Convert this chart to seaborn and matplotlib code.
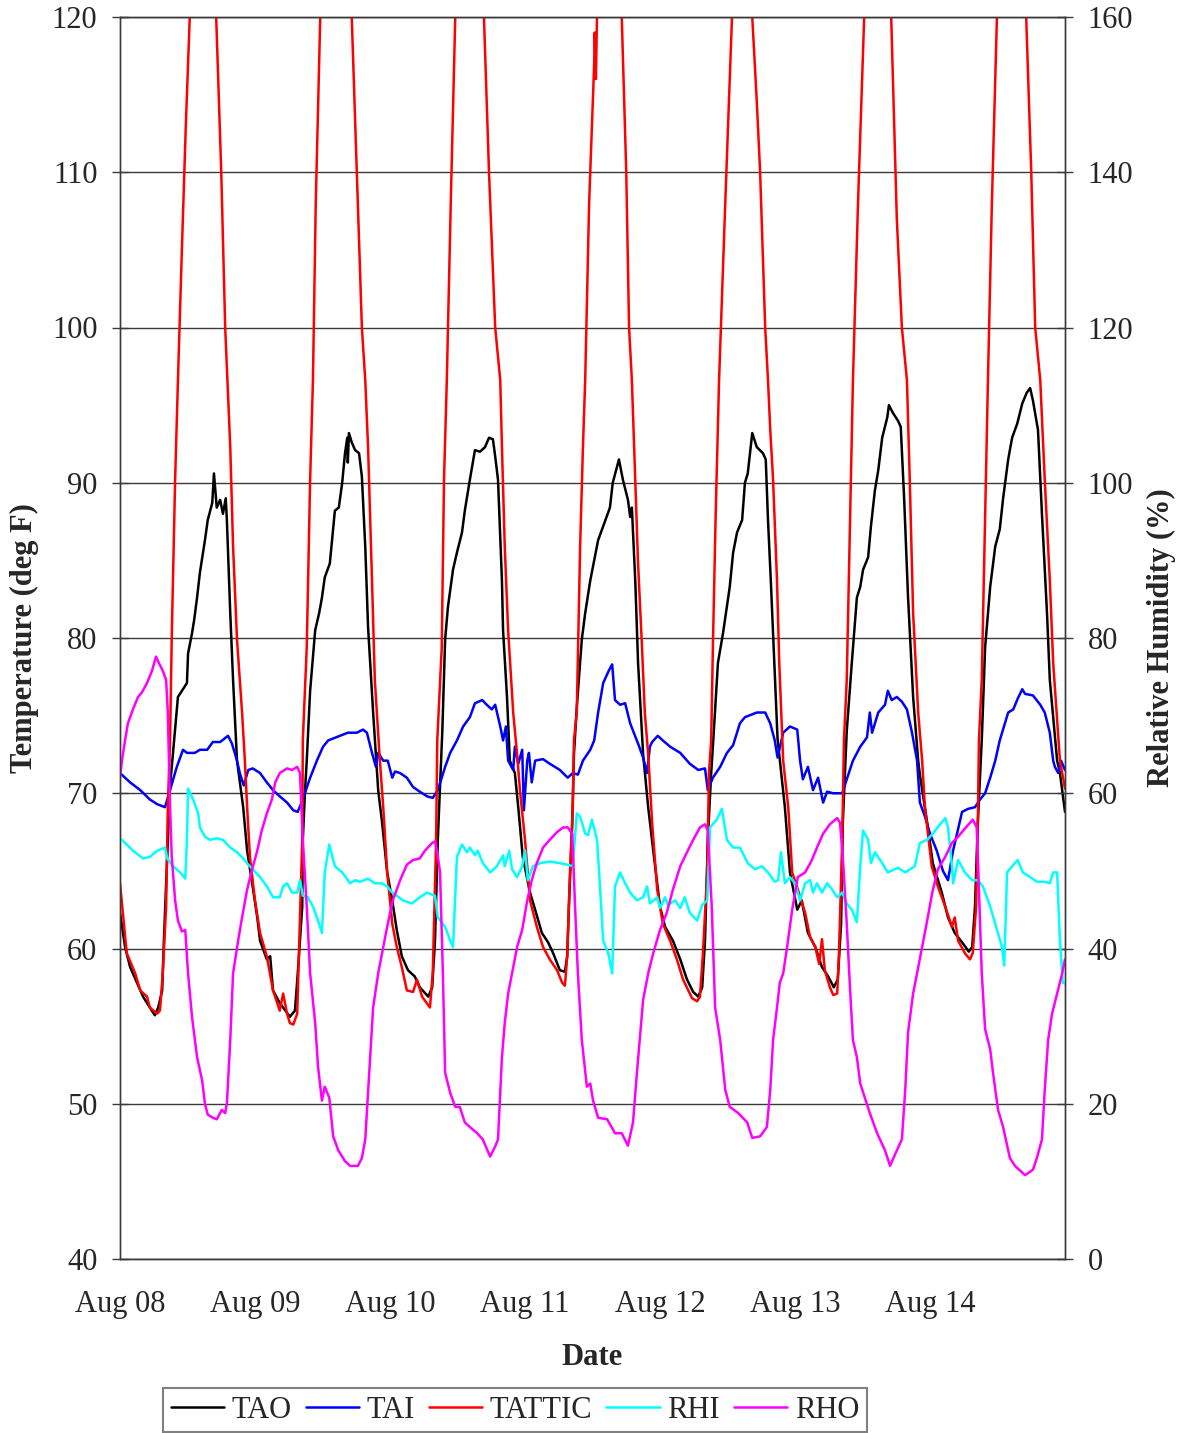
import matplotlib
matplotlib.use("Agg")
import matplotlib.pyplot as plt
import matplotlib.dates as mdates
from matplotlib.ticker import MultipleLocator, FixedLocator
import pandas as pd
import seaborn as sns

sns.set_style("white")
plt.rcParams["font.family"] = ["Liberation Serif", "DejaVu Serif"]

START = pd.Timestamp("2006-08-08 00:00")

# (hours since Aug 08 00:00, value)
TAO = [(0.0,62.3),(0.9,60.1),(1.8,58.8),(3.0,57.8),(4.1,56.9),(5.3,56.2),(6.2,55.7),(6.8,56.2),(7.5,57.3),(7.8,60.5),(8.4,66.0),(8.9,70.5),(9.4,72.5),(10.3,76.2),(11.9,77.1),(12.1,79.0),(12.8,80.3),(13.2,81.2),(13.7,82.6),(14.2,84.2),(15.1,86.3),(15.6,87.6),(16.4,88.7),(16.7,90.6),(17.2,88.4),(17.8,88.9),(18.3,88.0),(18.8,89.0),(19.0,87.6),(19.6,81.6),(20.1,77.3),(20.8,72.1),(21.9,69.1),(22.6,66.3),(23.5,64.2),(24.4,62.0),(24.9,60.5),(26.1,59.3),(26.7,59.5),(27.2,57.3),(28.4,56.5),(30.2,55.6),(31.1,56.0),(31.6,58.4),(32.4,62.7),(32.5,67.0),(32.9,70.2),(33.2,72.1),(33.8,76.6),(34.7,80.5),(35.4,81.6),(35.9,82.6),(36.4,83.9),(37.3,84.8),(37.7,86.3),(38.2,88.2),(38.9,88.4),(39.5,90.0),(40.0,91.9),(40.4,92.9),(40.5,91.3),(40.7,93.2),(41.2,92.6),(41.8,92.1),(42.5,91.9),(43.0,90.4),(43.6,85.9),(44.1,80.7),(45.0,75.2),(45.9,70.2),(46.6,68.1),(47.5,64.9),(48.4,63.1),(49.2,61.2),(50.1,59.5),(51.2,58.6),(52.4,58.2),(53.3,57.5),(54.8,56.9),(55.5,57.5),(56.0,60.5),(56.5,67.0),(57.3,74.0),(57.8,79.9),(58.3,82.0),(59.2,84.4),(59.9,85.5),(60.8,86.8),(61.3,88.2),(62.2,90.2),(63.1,92.1),(64.0,92.0),(64.9,92.3),(65.6,92.9),(66.3,92.8),(66.7,91.7),(67.2,90.2),(67.9,83.7),(68.1,80.5),(68.8,76.2),(69.3,72.1),(70.2,71.3),(70.8,69.1),(71.6,65.9),(72.9,63.6),(73.8,62.5),(75.0,61.0),(76.1,60.4),(77.0,59.7),(78.2,58.6),(79.1,58.5),(79.5,59.5),(79.8,62.7),(80.4,68.1),(80.7,72.5),(81.2,75.5),(82.1,79.9),(82.7,81.6),(83.6,83.7),(84.4,85.2),(85.0,86.3),(85.9,87.2),(87.1,88.4),(87.6,90.0),(88.7,91.5),(89.4,90.2),(90.3,88.9),(90.7,87.8),(91.0,88.4),(91.6,83.7),(92.1,78.4),(93.0,72.5),(93.9,69.1),(94.8,66.3),(96.0,62.7),(96.9,61.4),(98.3,60.5),(99.6,59.3),(100.8,58.0),(101.9,57.2),(102.8,56.9),(103.5,57.5),(104.0,60.5),(104.5,67.0),(105.1,71.3),(105.4,73.0),(106.3,78.4),(107.2,80.3),(108.4,83.3),(109.0,85.5),(109.7,86.8),(110.6,87.6),(111.1,90.0),(111.6,90.6),(112.4,93.2),(113.2,92.3),(114.3,91.9),(114.8,91.5),(115.2,87.6),(115.7,83.7),(116.2,79.4),(116.9,73.5),(118.2,69.1),(119.1,64.9),(120.4,62.5),(121.2,63.1),(122.3,61.0),(123.6,60.1),(124.8,58.8),(125.9,58.2),(126.9,57.5),(127.6,58.0),(128.2,61.6),(128.5,68.1),(129.2,74.0),(130.1,78.4),(131.0,82.6),(131.6,83.3),(132.1,84.4),(133.0,85.2),(133.5,87.2),(134.2,89.5),(134.8,90.8),(135.5,92.9),(136.4,94.2),(136.7,95.0),(137.4,94.5),(138.3,94.0),(138.8,93.6),(139.4,89.0),(140.1,82.6),(141.0,76.2),(141.9,72.1),(142.2,71.2),(143.5,68.1),(144.5,65.5),(146.1,63.6),(147.2,62.0),(148.4,61.0),(149.7,60.4),(150.9,59.8),(151.5,60.1),(152.0,62.7),(152.5,68.1),(153.2,73.4),(153.8,79.4),(154.7,83.3),(155.6,85.9),(156.4,87.0),(157.0,89.0),(157.9,91.5),(158.6,92.9),(159.5,93.8),(160.4,95.1),(161.2,95.8),(161.8,96.1),(162.3,95.3),(163.2,93.4),(163.9,88.0),(164.8,81.6),(165.3,77.3),(166.6,72.1),(167.1,71.3),(168.0,68.8)]

TATTIC = [(0.0,64.2),(1.2,59.7),(2.7,58.4),(3.6,57.3),(4.8,56.9),(5.3,56.2),(6.6,55.8),(7.1,56.0),(7.6,58.4),(8.2,62.7),(8.5,69.1),(8.9,73.4),(9.2,80.1),(9.8,90.2),(10.3,96.6),(11.0,105.0),(11.7,113.0),(12.4,120.0),(14.8,131.0),(17.1,120.0),(18.0,110.0),(18.7,100.0),(19.6,92.3),(20.1,85.9),(20.8,79.9),(21.7,75.2),(22.2,72.1),(22.6,69.1),(23.1,65.9),(24.0,63.1),(24.9,61.0),(26.1,59.5),(27.2,57.3),(28.4,56.0),(29.0,57.1),(29.7,55.8),(30.2,55.2),(30.8,55.1),(31.5,55.8),(31.8,59.5),(32.4,67.0),(32.5,73.4),(33.2,79.4),(33.8,90.2),(34.3,96.6),(34.8,108.0),(35.6,120.0),(38.4,133.0),(41.2,120.0),(42.1,110.0),(43.0,100.0),(43.6,96.6),(44.1,92.3),(44.8,83.7),(45.3,77.3),(46.2,72.1),(46.8,69.1),(47.5,64.9),(48.4,61.6),(49.2,60.1),(50.1,58.8),(51.0,57.3),(52.1,57.2),(52.8,58.0),(53.7,56.9),(55.1,56.2),(55.6,58.4),(56.2,67.0),(56.4,73.4),(57.2,79.4),(57.6,90.2),(58.1,96.6),(58.8,108.0),(59.6,120.0),(62.2,133.0),(64.7,120.0),(65.6,110.0),(66.7,100.0),(67.6,96.6),(67.9,92.3),(68.4,85.9),(69.0,80.5),(69.9,75.2),(70.6,72.5),(71.1,70.2),(72.0,67.0),(72.9,63.1),(74.1,61.4),(75.2,60.1),(76.4,59.3),(77.7,58.6),(78.6,57.8),(79.1,57.6),(79.5,59.5),(80.0,64.9),(80.5,69.1),(80.7,73.4),(81.2,75.2),(81.8,85.9),(82.3,92.3),(82.7,96.6),(83.4,108.0),(84.3,117.0),(84.4,119.0),(84.6,116.0),(84.8,120.0),(87.1,131.0),(89.2,120.0),(90.0,110.0),(90.5,100.0),(91.0,96.6),(91.6,90.2),(92.1,84.8),(92.8,79.4),(93.3,75.2),(93.9,72.5),(94.6,68.1),(95.5,63.8),(96.5,61.6),(97.8,60.5),(99.0,59.3),(100.1,58.0),(101.7,56.8),(102.6,56.6),(103.1,56.9),(103.6,59.5),(104.4,64.9),(104.7,71.3),(105.1,73.4),(105.4,79.4),(105.9,88.0),(106.5,96.6),(107.6,108.0),(108.8,120.0),(110.6,130.0),(112.4,120.0),(113.2,114.6),(113.8,110.0),(114.7,100.0),(115.2,96.6),(115.6,93.4),(116.1,90.2),(116.8,83.7),(117.2,78.4),(117.9,72.1),(118.8,69.1),(119.5,64.9),(120.5,63.8),(121.8,62.3),(122.7,60.7),(123.6,60.1),(124.3,59.0),(124.8,60.6),(125.3,58.6),(126.2,57.5),(126.8,57.0),(127.5,57.1),(127.8,59.5),(128.4,67.0),(128.7,73.4),(129.2,77.3),(129.8,88.0),(130.3,96.6),(131.2,108.0),(132.3,120.0),(134.6,133.0),(137.1,120.0),(138.1,107.0),(139.0,100.0),(139.9,96.6),(140.4,90.2),(141.0,81.6),(141.9,75.2),(142.6,72.1),(143.1,69.1),(144.3,65.3),(145.4,64.0),(146.7,62.7),(147.9,61.4),(148.4,62.0),(149.0,60.5),(150.2,59.7),(151.1,59.3),(151.6,59.7),(152.2,62.7),(152.5,68.1),(152.7,73.4),(153.2,77.3),(153.8,88.0),(154.3,96.6),(155.0,108.0),(155.9,120.0),(158.6,132.0),(161.1,120.0),(162.0,110.0),(162.7,100.0),(163.6,96.6),(164.4,90.2),(165.3,83.7),(165.9,78.4),(167.1,72.1),(168.0,70.3)]

TAI = [(0.0,71.3),(1.8,70.7),(3.6,70.2),(5.3,69.6),(6.6,69.3),(8.0,69.1),(8.9,70.2),(10.1,71.7),(11.2,72.8),(11.9,72.6),(13.3,72.6),(14.2,72.8),(15.5,72.8),(16.5,73.3),(17.8,73.3),(19.2,73.7),(19.9,73.2),(20.8,72.1),(21.3,71.3),(22.0,70.5),(22.8,71.5),(23.6,71.6),(24.9,71.3),(26.1,70.7),(27.2,70.2),(28.4,69.8),(29.7,69.4),(30.8,68.9),(31.6,68.8),(32.5,69.6),(33.8,71.0),(35.0,72.1),(36.1,73.0),(37.0,73.4),(39.1,73.7),(40.5,73.9),(42.1,73.9),(43.2,74.1),(43.9,73.9),(44.8,72.6),(45.5,71.7),(45.9,72.6),(46.8,72.1),(47.6,72.1),(48.4,71.0),(48.9,71.4),(49.8,71.3),(51.0,71.0),(52.1,70.4),(53.3,70.1),(54.6,69.8),(55.6,69.7),(56.5,70.2),(57.8,71.7),(58.7,72.6),(59.9,73.4),(61.0,74.3),(62.2,74.9),(63.1,75.8),(64.4,76.0),(65.2,75.7),(66.1,75.4),(66.7,75.7),(67.6,74.3),(68.1,73.4),(68.6,74.3),(69.0,72.1),(69.9,71.5),(70.2,73.0),(70.8,71.9),(71.5,72.8),(71.8,68.9),(72.4,72.1),(72.7,72.6),(73.2,70.7),(73.8,72.1),(75.2,72.2),(76.4,71.9),(78.2,71.5),(79.6,71.0),(80.5,71.3),(81.4,71.2),(82.3,72.1),(83.6,72.8),(84.3,73.4),(85.0,75.2),(85.9,77.1),(86.9,77.9),(87.5,78.3),(88.0,76.0),(88.9,75.7),(89.8,75.8),(90.7,74.5),(92.1,73.2),(93.0,72.3),(93.7,71.3),(94.2,73.0),(94.6,73.3),(95.6,73.7),(96.5,73.4),(97.8,73.0),(99.6,72.6),(101.3,71.9),(102.8,71.5),(104.0,71.6),(104.5,70.2),(105.4,71.0),(106.7,71.7),(107.9,72.6),(109.0,73.1),(110.2,74.5),(111.1,74.9),(113.2,75.2),(114.7,75.2),(115.6,74.5),(116.4,73.4),(116.9,72.3),(117.9,73.9),(119.1,74.3),(120.4,74.1),(120.9,72.1),(121.4,70.9),(122.3,71.7),(123.2,70.2),(124.1,71.0),(125.0,69.4),(125.7,70.1),(126.8,70.0),(128.4,70.0),(129.2,70.9),(130.3,72.1),(131.6,73.0),(132.8,73.6),(133.3,75.2),(133.7,73.9),(134.8,75.2),(136.0,75.7),(136.5,76.6),(137.2,76.0),(138.1,76.2),(139.0,75.9),(139.9,75.4),(140.8,73.9),(141.7,72.1),(142.2,69.4),(143.1,68.5),(144.0,67.4),(145.2,66.3),(146.3,65.0),(147.2,64.4),(148.1,66.3),(148.8,67.4),(149.7,68.8),(150.8,69.0),(152.0,69.1),(152.9,69.6),(153.8,70.0),(154.7,71.0),(155.6,72.1),(156.4,73.4),(157.9,75.2),(158.8,75.4),(159.6,76.1),(160.4,76.7),(160.9,76.4),(162.3,76.3),(163.6,75.7),(164.4,75.2),(165.3,73.9),(165.9,72.1),(166.2,71.7),(166.8,71.3),(167.3,72.1),(168.0,71.5)]

RHI = [(0.0,54.2),(0.9,53.6),(2.3,52.6),(4.1,51.6),(5.3,51.8),(6.6,52.6),(8.0,53.0),(8.4,51.6),(9.4,50.6),(10.7,49.8),(11.6,49.0),(11.9,54.0),(12.1,60.6),(13.0,59.2),(13.9,57.4),(14.2,55.6),(15.1,54.4),(16.0,54.0),(17.2,54.2),(18.3,54.0),(19.6,53.0),(20.8,52.4),(21.9,51.6),(22.8,50.8),(23.6,50.2),(24.9,49.2),(26.1,48.0),(27.2,46.6),(28.4,46.6),(29.0,48.0),(29.7,48.4),(30.6,47.2),(31.5,47.2),(32.0,48.8),(32.5,46.8),(33.4,46.6),(34.3,45.4),(35.2,43.6),(35.9,42.0),(36.4,49.8),(37.2,53.4),(38.2,50.6),(39.5,49.8),(40.9,48.4),(41.8,48.8),(42.7,48.6),(44.1,49.0),(45.3,48.4),(46.6,48.4),(47.5,48.0),(48.4,47.2),(49.2,46.8),(50.3,46.2),(51.9,45.8),(53.3,46.6),(54.6,47.2),(56.0,46.8),(56.5,44.0),(57.8,42.8),(58.7,41.0),(59.2,40.2),(59.9,51.8),(60.8,53.4),(61.7,52.4),(62.2,53.0),(63.1,52.0),(63.6,52.6),(64.5,51.0),(65.8,49.8),(67.0,50.6),(68.1,52.0),(68.4,50.6),(69.2,52.6),(69.7,50.2),(70.6,49.2),(71.5,50.6),(72.0,52.6),(72.5,48.8),(73.4,50.6),(74.7,51.0),(76.4,51.2),(78.2,51.0),(79.5,50.8),(80.5,50.6),(81.2,57.4),(81.8,57.0),(82.7,54.8),(83.2,54.6),(83.9,56.6),(84.8,54.0),(85.3,48.4),(85.9,41.0),(86.8,39.4),(87.5,36.8),(88.0,48.0),(88.9,49.8),(89.8,48.4),(90.7,47.2),(91.9,46.2),(93.0,46.6),(93.7,48.0),(94.2,45.8),(95.5,46.6),(96.0,45.2),(96.9,46.6),(97.4,45.6),(98.7,46.2),(99.6,45.2),(100.4,46.6),(101.3,44.6),(102.6,43.6),(103.5,45.6),(104.4,46.2),(104.9,55.6),(106.1,56.6),(107.0,58.0),(107.9,54.0),(109.0,53.0),(110.2,53.0),(111.6,51.0),(112.9,50.2),(114.1,50.6),(115.2,49.8),(116.4,48.6),(117.0,48.8),(117.5,52.4),(118.2,48.4),(119.1,49.2),(120.0,48.4),(120.9,46.2),(121.8,48.4),(122.7,48.8),(123.2,47.2),(123.9,48.4),(124.8,47.2),(125.7,48.4),(126.6,47.6),(127.5,46.6),(128.4,47.2),(129.2,45.8),(130.1,45.0),(131.0,43.4),(131.6,50.6),(132.1,55.2),(133.0,54.0),(133.5,51.0),(134.2,52.4),(135.5,51.0),(136.5,49.8),(138.3,50.4),(139.6,49.8),(141.3,50.6),(142.2,53.6),(143.5,54.0),(144.5,54.8),(145.8,56.0),(146.7,56.8),(147.2,55.6),(147.9,50.6),(148.1,48.4),(149.0,51.4),(150.2,49.8),(151.5,48.8),(152.5,48.8),(153.4,48.0),(154.7,45.4),(155.9,42.4),(156.8,40.2),(157.2,37.8),(157.7,49.8),(158.6,50.6),(159.6,51.4),(160.5,49.8),(161.8,49.2),(163.0,48.6),(164.4,48.6),(165.3,48.4),(165.9,49.8),(166.6,49.8),(167.1,41.0),(167.6,35.6),(168.0,35.5)]

RHO = [(0.0,62.0),(0.4,64.5),(0.9,66.8),(1.4,69.0),(2.3,70.8),(3.2,72.4),(3.9,73.0),(4.8,74.2),(5.7,75.8),(6.4,77.6),(6.9,76.8),(7.6,75.8),(8.2,74.6),(8.5,70.4),(8.7,64.2),(8.9,58.2),(9.2,51.8),(9.8,46.2),(10.3,43.6),(11.0,42.2),(11.6,42.4),(12.1,36.8),(12.8,31.2),(13.7,26.0),(14.6,23.0),(15.1,20.0),(15.6,18.6),(16.5,18.2),(17.2,18.0),(18.1,19.2),(18.7,18.8),(19.0,20.0),(19.6,28.2),(20.1,36.8),(21.0,41.0),(21.7,44.0),(22.6,47.6),(23.5,50.2),(24.4,52.6),(25.2,55.2),(26.1,57.4),(27.0,59.2),(27.6,61.4),(28.4,62.6),(29.7,63.2),(30.6,63.0),(31.5,63.4),(32.0,62.6),(32.5,54.0),(33.2,45.4),(33.8,36.8),(34.7,30.4),(35.2,24.8),(35.9,20.4),(36.4,22.2),(37.2,20.8),(37.9,15.8),(38.8,14.0),(40.0,12.6),(40.9,12.0),(42.3,12.0),(43.0,13.0),(43.6,15.4),(44.3,24.0),(45.0,32.4),(45.9,36.8),(46.8,40.2),(47.5,42.8),(48.5,46.2),(49.8,48.8),(51.0,50.8),(52.1,51.4),(53.3,51.6),(54.2,52.6),(55.5,53.6),(56.0,53.8),(56.4,52.4),(56.9,49.8),(57.4,36.8),(57.8,24.0),(58.7,21.4),(59.6,19.6),(60.4,19.6),(61.3,17.6),(62.2,17.0),(63.5,16.2),(64.5,15.4),(65.8,13.2),(66.7,14.5),(67.2,15.4),(67.9,26.0),(68.4,30.4),(69.0,34.2),(69.7,36.8),(70.6,40.2),(71.5,42.4),(72.4,46.2),(73.2,48.8),(74.1,51.0),(75.2,53.0),(76.4,54.0),(77.7,55.0),(78.8,55.6),(79.6,55.6),(80.4,54.8),(80.9,45.4),(81.4,36.8),(82.1,28.2),(83.0,22.2),(83.6,22.6),(84.1,20.4),(85.0,18.2),(86.6,18.0),(88.0,16.2),(89.2,16.2),(90.3,14.6),(91.2,17.6),(91.9,24.0),(92.4,28.2),(93.0,33.4),(93.9,36.8),(94.8,39.4),(96.0,42.4),(97.2,44.6),(98.3,47.6),(99.6,50.6),(100.8,52.4),(101.9,54.0),(103.1,55.6),(104.0,56.0),(104.5,55.2),(105.2,45.4),(105.8,32.4),(106.7,28.2),(107.6,21.8),(108.4,19.6),(109.9,18.8),(111.5,17.6),(112.4,15.6),(113.8,15.8),(115.0,17.0),(115.6,21.8),(116.1,28.2),(116.8,32.4),(117.3,35.6),(117.9,36.8),(118.6,40.2),(119.5,45.0),(120.5,49.2),(121.8,49.8),(123.0,51.4),(123.9,53.0),(125.0,54.8),(126.2,56.0),(127.5,56.8),(128.0,56.2),(128.5,51.8),(129.2,43.2),(129.8,34.6),(130.3,28.2),(131.0,26.0),(131.6,22.6),(132.4,20.8),(133.3,18.8),(134.6,16.2),(136.0,14.0),(136.9,12.0),(137.8,13.5),(139.0,15.4),(139.6,21.8),(140.1,29.2),(141.0,34.2),(141.7,36.8),(142.6,40.2),(143.5,43.6),(144.4,47.2),(145.4,50.2),(146.7,51.8),(147.9,53.6),(149.0,54.4),(149.9,55.2),(151.1,56.2),(151.6,56.6),(152.3,55.6),(152.5,51.8),(153.2,36.8),(153.8,29.6),(154.7,27.0),(155.2,24.0),(156.1,19.2),(157.0,17.0),(158.2,13.0),(159.1,12.0),(160.9,10.8),(162.3,11.5),(163.0,13.0),(163.9,15.4),(164.4,21.8),(165.0,28.2),(165.7,31.6),(166.6,34.2),(167.5,36.8),(168.0,38.6)]

TEMP_SERIES = ["TAO", "TAI", "TATTIC"]
RH_SERIES = ["RHI", "RHO"]
COLORS = {"TAO": "#000000", "TAI": "#0000FF", "TATTIC": "#FF0000",
          "RHI": "#00FFFF", "RHO": "#FF00FF"}
DAY_LABELS = ["Aug 08", "Aug 09", "Aug 10", "Aug 11", "Aug 12", "Aug 13", "Aug 14"]


def frame(name, pairs):
    h, v = zip(*pairs)
    return pd.DataFrame({"time": START + pd.to_timedelta(list(h), unit="h"),
                         "value": list(v), "series": name})


temp = pd.concat([frame("TAO", TAO), frame("TAI", TAI), frame("TATTIC", TATTIC)],
                 ignore_index=True)
rh = pd.concat([frame("RHI", RHI), frame("RHO", RHO)], ignore_index=True)

FS = 22
fig = plt.figure(figsize=(11.85, 14.33), dpi=100)
ax = fig.add_axes([120 / 1185, 1 - 1259 / 1433, 945 / 1185, 1242 / 1433])
ax2 = ax.twinx()

sns.lineplot(data=temp, x="time", y="value", hue="series", hue_order=TEMP_SERIES,
             palette=COLORS, estimator=None, sort=False, linewidth=1.8,
             legend=False, ax=ax)
sns.lineplot(data=rh, x="time", y="value", hue="series", hue_order=RH_SERIES,
             palette=COLORS, estimator=None, sort=False, linewidth=1.8,
             legend=False, ax=ax2)

end = START + pd.Timedelta(days=7)
ax.set_xlim(START, end)
ax.set_ylim(40, 120)
ax2.set_ylim(0, 160)
ax.yaxis.set_major_locator(MultipleLocator(10))
ax2.yaxis.set_major_locator(MultipleLocator(20))

day_ticks = [mdates.date2num(START + pd.Timedelta(days=i)) for i in range(len(DAY_LABELS))]
quarter_ticks = [mdates.date2num(START + pd.Timedelta(hours=6 * i)) for i in range(0, 29)]
ax.xaxis.set_major_locator(FixedLocator(day_ticks))
ax.set_xticklabels(DAY_LABELS)
ax.xaxis.set_minor_locator(FixedLocator(quarter_ticks))

ax.grid(True, axis="y", color="#3a3a3a", linewidth=1.0)
ax.grid(False, axis="x")
ax2.grid(False)

tick_color = "#3a3a3a"
ax.tick_params(axis="x", which="both", direction="inout", length=14, width=1,
               color=tick_color, labelsize=FS, pad=15)
ax.tick_params(axis="y", which="both", direction="inout", length=11.5, width=1,
               color=tick_color, labelsize=FS, pad=10.5)
ax2.tick_params(axis="y", which="both", direction="inout", length=11.5, width=1,
                color=tick_color, labelsize=FS, pad=10.5)

for a in (ax, ax2):
    for s in a.spines.values():
        s.set_color(tick_color)
        s.set_linewidth(1.0)

ax.set_xlabel("Date", fontsize=FS, fontweight="bold")
ax.set_ylabel("Temperature (deg F)", fontsize=FS, fontweight="bold")
ax2.set_ylabel("Relative Humidity (%)", fontsize=FS, fontweight="bold")
ax.xaxis.set_label_coords(0.5, -0.068)
ax.yaxis.set_label_coords(-0.086, 0.5)
ax2.yaxis.set_label_coords(1.087, 0.5)

handles = list(ax.lines[:3]) + list(ax2.lines[:2])
labels = TEMP_SERIES + RH_SERIES
leg = fig.legend(handles, labels, loc="center",
                 bbox_to_anchor=(515 / 1185, 1 - 1410 / 1433), ncol=5,
                 fontsize=FS, frameon=True, fancybox=False, framealpha=1,
                 edgecolor="#808080", handlelength=1.75, handletextpad=0.25,
                 columnspacing=0.45, borderpad=0.25, borderaxespad=0)
leg.get_frame().set_linewidth(1.5)

fig.savefig("out.png", dpi=100)
